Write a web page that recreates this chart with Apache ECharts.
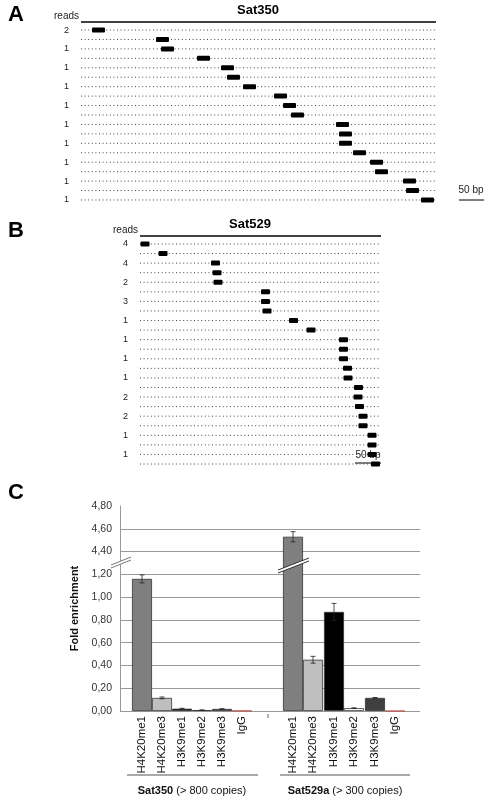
<!DOCTYPE html>
<html><head><meta charset="utf-8">
<script src="https://cdn.jsdelivr.net/npm/echarts@6/dist/echarts.min.js"></script>
<style>html,body{margin:0;background:#fff}#c{width:488px;height:800px}</style>
</head><body><div id="c"></div>
<script>
// Panel A (Sat350) reads, start positions in bp
const readsA = ['2','1','1','1','1','6','1','1','1','5','1','1','1','2','1','1','1','1','1'];
const startsA = [22,150,160,232,280,292,324,386,404,420,510,516,516,544,578,588,644,650,680];
const lenA = 26, spanA = 710;
// Panel B (Sat529)
const readsB = ['4','4','4','19','2','1','3','1','1','1','1','1','1','2','1','2','2','2','2','1','1','2','1','2'];
const startsB = [1,37,142,145,147,242,242,245,298,333,398,398,398,406,407,428,427,430,437,437,455,455,455,462];
const lenB = 18, spanB = 480;
// Panel C
const marks = ['H4K20me1','H4K20me3','H3K9me1','H3K9me2','H3K9me3','IgG'];
const colorsC = ['#7f7f7f','#bfbfbf','#000000','#ffffff','#3f3f3f','#c0504d'];
const sat350 = [1.16,0.115,0.02,0.008,0.018,0.003];
const err350 = [0.035,0.008,0.004,0.002,0.002,0];
const sat529 = [4.53,0.45,0.87,0.025,0.115,0];
const err529 = [0.045,0.03,0.075,0.003,0.003,0];
const xPos350 = [22,42,62,82,102,122];
const xPos529 = [173,193,214,234,255,275];
const yTicks = ['0,00','0,20','0,40','0,60','0,80','1,00','1,20','4,40','4,60','4,80'];

const brk = v => v >= 4.4 ? v - 3.0 : v;

function rowData(starts){return starts.map((s,i)=>[s,i]);}
function dotted(n){return Array.from({length:n},(_,i)=>[0,i]);}

const readItem = len => (params, api) => {
  const p0 = api.coord([api.value(0), api.value(1)]);
  const p1 = api.coord([api.value(0)+len, api.value(1)]);
  return {type:'rect', shape:{x:p0[0], y:p0[1]-2.5, width:p1[0]-p0[0], height:5, r:1}, style:{fill:'#000'}};
};
const dotItem = span => (params, api) => {
  const p0 = api.coord([0, api.value(1)]);
  const p1 = api.coord([span, api.value(1)]);
  return {type:'line', shape:{x1:p0[0], y1:p0[1], x2:p1[0], y2:p1[1]}, style:{stroke:'#444', lineWidth:1, lineDash:[1,2.6]}};
};

const barData = [];
const errData = [];
const labData = [];
[[xPos350,sat350,err350],[xPos529,sat529,err529]].forEach(([xs,vs,es])=>{
  xs.forEach((x,i)=>{
    barData.push({value:[x, brk(vs[i])], itemStyle:{color:colorsC[i], borderColor:i===5?colorsC[5]:'#333', borderWidth:0.8}});
    if (es[i] > 0) errData.push([x, brk(vs[i]), es[i]]);
    labData.push([x, marks[i]]);
  });
});

const axHidden = {show:false};
const option = {
  animation:false,
  textStyle:{fontFamily:'Liberation Sans, Arial, sans-serif'},
  grid:[
    {left:81, right:52, top:25.3, bottom:595.3},
    {left:140, right:108, top:239.2, bottom:331.2},
    {left:120, right:68, top:506, bottom:89}
  ],
  xAxis:[
    {gridIndex:0, type:'value', min:0, max:spanA, ...axHidden},
    {gridIndex:1, type:'value', min:0, max:spanB, ...axHidden},
    {gridIndex:2, type:'value', min:0, max:300, show:false}
  ],
  yAxis:[
    {gridIndex:0, type:'category', inverse:true, data:readsA, axisLine:{show:false}, axisTick:{show:false},
     axisLabel:{fontSize:9, color:'#222', margin:12}},
    {gridIndex:1, type:'category', inverse:true, data:readsB, axisLine:{show:false}, axisTick:{show:false},
     axisLabel:{fontSize:9, color:'#222', margin:12}},
    {gridIndex:2, type:'value', min:0, max:1.8, interval:0.2,
     axisLine:{show:true, lineStyle:{color:'#999'}}, axisTick:{show:false},
     axisLabel:{fontSize:10.5, color:'#333', formatter:(v)=>yTicks[Math.round(v/0.2)]},
     splitLine:{show:true, lineStyle:{color:['#999','#999','#999','#999','#999','#999','#999','#999','#999','transparent'], width:1}},
     name:'Fold enrichment', nameLocation:'middle', nameGap:30, nameRotate:90,
     nameTextStyle:{fontWeight:'bold', fontSize:11, color:'#111'}}
  ],
  series:[
    {type:'custom', xAxisIndex:0, yAxisIndex:0, renderItem:dotItem(spanA), data:dotted(readsA.length), z:1},
    {type:'custom', xAxisIndex:0, yAxisIndex:0, renderItem:readItem(lenA), data:rowData(startsA), z:2},
    {type:'custom', xAxisIndex:1, yAxisIndex:1, renderItem:dotItem(spanB), data:dotted(readsB.length), z:1},
    {type:'custom', xAxisIndex:1, yAxisIndex:1, renderItem:readItem(lenB), data:rowData(startsB), z:2},
    {type:'bar', xAxisIndex:2, yAxisIndex:2, barWidth:20, data:barData, z:3},
    {type:'custom', xAxisIndex:2, yAxisIndex:2, data:errData, z:4, renderItem:(p,api)=>{
      const x=api.value(0), v=api.value(1), e=api.value(2);
      const a=api.coord([x,v+e]), b=api.coord([x,v-e]);
      const st={stroke:'#222', lineWidth:0.8};
      return {type:'group', children:[
        {type:'line', shape:{x1:a[0],y1:a[1],x2:b[0],y2:b[1]}, style:st},
        {type:'line', shape:{x1:a[0]-2.5,y1:a[1],x2:a[0]+2.5,y2:a[1]}, style:st},
        {type:'line', shape:{x1:b[0]-2.5,y1:b[1],x2:b[0]+2.5,y2:b[1]}, style:st}]};
    }},
    {type:'custom', xAxisIndex:2, yAxisIndex:2, data:labData, z:4, renderItem:(p,api)=>{
      const c=api.coord([api.value(0),0]);
      return {type:'text', x:c[0], y:c[1]+5, rotation:Math.PI/2,
        style:{text:marks[p.dataIndex%6], x:0, y:0, align:'right', verticalAlign:'middle', fontSize:11.5, fill:'#111', fontFamily:'Liberation Sans, Arial, sans-serif'}};
    }}
  ],
  graphic:[
    {type:'text', left:8, top:4, style:{text:'A', fontSize:22, fontWeight:'bold', fill:'#000'}},
    {type:'text', left:8, top:220, style:{text:'B', fontSize:22, fontWeight:'bold', fill:'#000'}},
    {type:'text', left:8, top:482, style:{text:'C', fontSize:22, fontWeight:'bold', fill:'#000'}},
    {type:'text', x:258, y:10, style:{text:'Sat350', fontSize:13, fontWeight:'bold', align:'center', verticalAlign:'middle', fill:'#000'}},
    {type:'line', shape:{x1:81,y1:22,x2:436,y2:22}, style:{stroke:'#000', lineWidth:1.5}},
    {type:'text', x:79, y:16, style:{text:'reads', fontSize:10, align:'right', verticalAlign:'middle', fill:'#222'}},
    {type:'text', x:250, y:224, style:{text:'Sat529', fontSize:13, fontWeight:'bold', align:'center', verticalAlign:'middle', fill:'#000'}},
    {type:'line', shape:{x1:140,y1:236,x2:381,y2:236}, style:{stroke:'#000', lineWidth:1.5}},
    {type:'text', x:138, y:230, style:{text:'reads', fontSize:10, align:'right', verticalAlign:'middle', fill:'#222'}},
    {type:'text', x:471, y:190, style:{text:'50 bp', fontSize:10, align:'center', verticalAlign:'middle', fill:'#222'}},
    {type:'line', shape:{x1:459,y1:200,x2:484,y2:200}, style:{stroke:'#000', lineWidth:1}},
    {type:'text', x:368, y:455, style:{text:'50 bp', fontSize:10, align:'center', verticalAlign:'middle', fill:'#222'}},
    {type:'line', shape:{x1:355,y1:463,x2:381,y2:463}, style:{stroke:'#000', lineWidth:1}},
    // axis break on y axis
    {type:'polygon', shape:{points:[[111,565],[131,557],[131,560],[111,568]]}, style:{fill:'#fff'}, z:10},
    {type:'line', shape:{x1:111,y1:565,x2:131,y2:557}, style:{stroke:'#777', lineWidth:1}, z:11},
    {type:'line', shape:{x1:111,y1:568,x2:131,y2:560}, style:{stroke:'#777', lineWidth:1}, z:11},
    // axis break on bar
    {type:'polygon', shape:{points:[[278,570],[309,558],[309,561],[278,573]]}, style:{fill:'#fff'}, z:10},
    {type:'line', shape:{x1:278,y1:570,x2:309,y2:558}, style:{stroke:'#333', lineWidth:1}, z:11},
    {type:'line', shape:{x1:278,y1:573,x2:309,y2:561}, style:{stroke:'#333', lineWidth:1}, z:11},
    {type:'line', shape:{x1:268,y1:714,x2:268,y2:718}, style:{stroke:'#666', lineWidth:1}},
    {type:'line', shape:{x1:127,y1:775,x2:258,y2:775}, style:{stroke:'#555', lineWidth:1}},
    {type:'line', shape:{x1:280,y1:775,x2:410,y2:775}, style:{stroke:'#555', lineWidth:1}},
    {type:'text', x:192, y:791, style:{text:'{b|Sat350} (> 800 copies)', align:'center', verticalAlign:'middle', fontSize:11, fill:'#111',
      rich:{b:{fontWeight:'bold', fontSize:11, fill:'#111'}}}},
    {type:'text', x:345, y:791, style:{text:'{b|Sat529a} (> 300 copies)', align:'center', verticalAlign:'middle', fontSize:11, fill:'#111',
      rich:{b:{fontWeight:'bold', fontSize:11, fill:'#111'}}}}
  ]
};
echarts.init(document.getElementById('c')).setOption(option);
</script></body></html>
